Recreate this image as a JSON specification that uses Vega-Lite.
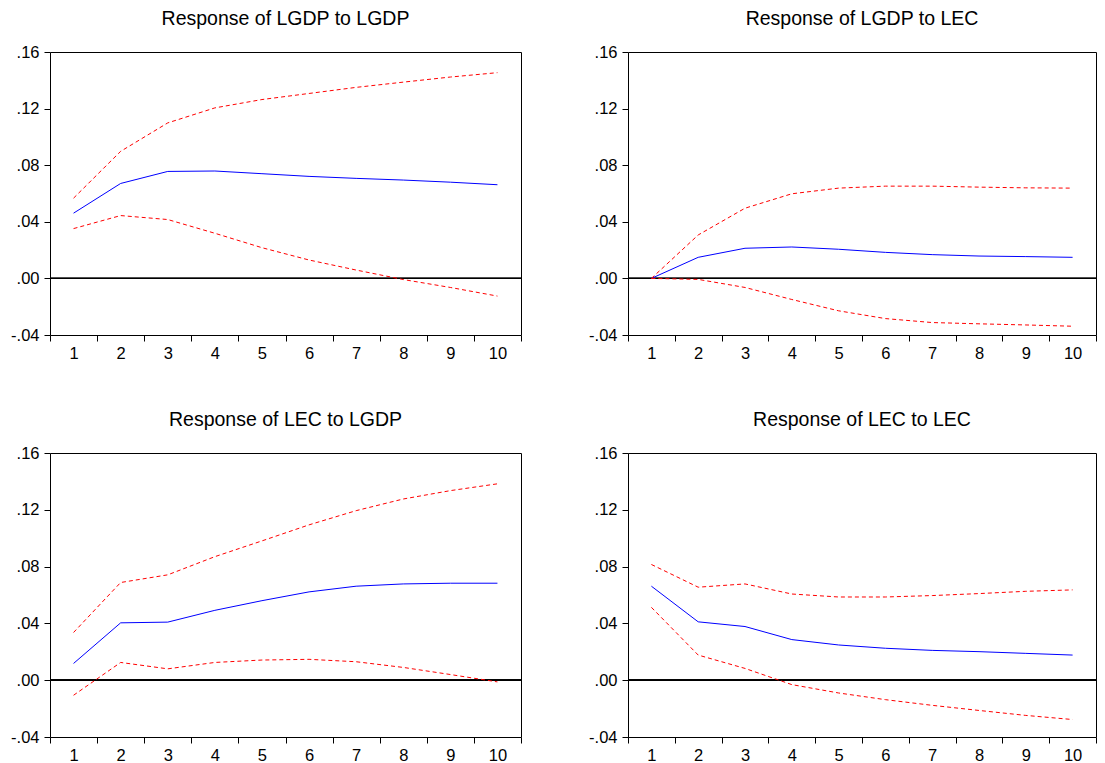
{
  "$schema": "https://vega.github.io/schema/vega-lite/v6.json",
  "background": "white",
  "padding": {"left": 10, "top": 8, "right": 5, "bottom": 0},
  "data": {"values": [
    {"panel": "LGDP_LGDP", "t": 1, "resp": 0.0461, "lo": 0.0352, "hi": 0.0567},
    {"panel": "LGDP_LGDP", "t": 2, "resp": 0.0671, "lo": 0.0444, "hi": 0.0898},
    {"panel": "LGDP_LGDP", "t": 3, "resp": 0.0756, "lo": 0.0416, "hi": 0.1099},
    {"panel": "LGDP_LGDP", "t": 4, "resp": 0.0759, "lo": 0.0319, "hi": 0.1205},
    {"panel": "LGDP_LGDP", "t": 5, "resp": 0.0740, "lo": 0.0217, "hi": 0.1264},
    {"panel": "LGDP_LGDP", "t": 6, "resp": 0.0721, "lo": 0.0130, "hi": 0.1307},
    {"panel": "LGDP_LGDP", "t": 7, "resp": 0.0707, "lo": 0.0059, "hi": 0.1350},
    {"panel": "LGDP_LGDP", "t": 8, "resp": 0.0695, "lo": -0.0008, "hi": 0.1387},
    {"panel": "LGDP_LGDP", "t": 9, "resp": 0.0680, "lo": -0.0064, "hi": 0.1423},
    {"panel": "LGDP_LGDP", "t": 10, "resp": 0.0662, "lo": -0.0125, "hi": 0.1454},
    {"panel": "LGDP_LEC", "t": 1, "resp": 0.0, "lo": 0.0, "hi": 0.0},
    {"panel": "LGDP_LEC", "t": 2, "resp": 0.0149, "lo": -0.0007, "hi": 0.0307},
    {"panel": "LGDP_LEC", "t": 3, "resp": 0.0213, "lo": -0.0064, "hi": 0.0496},
    {"panel": "LGDP_LEC", "t": 4, "resp": 0.0222, "lo": -0.0149, "hi": 0.0598},
    {"panel": "LGDP_LEC", "t": 5, "resp": 0.0206, "lo": -0.0229, "hi": 0.0638},
    {"panel": "LGDP_LEC", "t": 6, "resp": 0.0184, "lo": -0.0284, "hi": 0.0652},
    {"panel": "LGDP_LEC", "t": 7, "resp": 0.0168, "lo": -0.0312, "hi": 0.0652},
    {"panel": "LGDP_LEC", "t": 8, "resp": 0.0158, "lo": -0.0321, "hi": 0.0645},
    {"panel": "LGDP_LEC", "t": 9, "resp": 0.0154, "lo": -0.0329, "hi": 0.0640},
    {"panel": "LGDP_LEC", "t": 10, "resp": 0.0149, "lo": -0.0338, "hi": 0.0638},
    {"panel": "LEC_LGDP", "t": 1, "resp": 0.0118, "lo": -0.0106, "hi": 0.0336},
    {"panel": "LEC_LGDP", "t": 2, "resp": 0.0404, "lo": 0.0125, "hi": 0.0688},
    {"panel": "LEC_LGDP", "t": 3, "resp": 0.0409, "lo": 0.0080, "hi": 0.0742},
    {"panel": "LEC_LGDP", "t": 4, "resp": 0.0492, "lo": 0.0125, "hi": 0.0870},
    {"panel": "LEC_LGDP", "t": 5, "resp": 0.0560, "lo": 0.0142, "hi": 0.0981},
    {"panel": "LEC_LGDP", "t": 6, "resp": 0.0622, "lo": 0.0147, "hi": 0.1094},
    {"panel": "LEC_LGDP", "t": 7, "resp": 0.0662, "lo": 0.0130, "hi": 0.1194},
    {"panel": "LEC_LGDP", "t": 8, "resp": 0.0678, "lo": 0.0090, "hi": 0.1276},
    {"panel": "LEC_LGDP", "t": 9, "resp": 0.0683, "lo": 0.0040, "hi": 0.1335},
    {"panel": "LEC_LGDP", "t": 10, "resp": 0.0683, "lo": -0.0012, "hi": 0.1383},
    {"panel": "LEC_LEC", "t": 1, "resp": 0.0662, "lo": 0.0513, "hi": 0.0815},
    {"panel": "LEC_LEC", "t": 2, "resp": 0.0411, "lo": 0.0177, "hi": 0.0655},
    {"panel": "LEC_LEC", "t": 3, "resp": 0.0378, "lo": 0.0083, "hi": 0.0678},
    {"panel": "LEC_LEC", "t": 4, "resp": 0.0286, "lo": -0.0031, "hi": 0.0607},
    {"panel": "LEC_LEC", "t": 5, "resp": 0.0248, "lo": -0.0090, "hi": 0.0586},
    {"panel": "LEC_LEC", "t": 6, "resp": 0.0225, "lo": -0.0137, "hi": 0.0586},
    {"panel": "LEC_LEC", "t": 7, "resp": 0.0210, "lo": -0.0177, "hi": 0.0596},
    {"panel": "LEC_LEC", "t": 8, "resp": 0.0201, "lo": -0.0213, "hi": 0.0610},
    {"panel": "LEC_LEC", "t": 9, "resp": 0.0189, "lo": -0.0248, "hi": 0.0626},
    {"panel": "LEC_LEC", "t": 10, "resp": 0.0177, "lo": -0.0277, "hi": 0.0636}
  ]},
  "columns": 2,
  "spacing": {"row": 47, "column": 66},
  "concat": [
    {
      "title": "Response of LGDP to LGDP",
      "width": 471, "height": 283,
      "transform": [{"filter": "datum.panel === 'LGDP_LGDP'"}],
      "resolve": {"axis": {"x": "independent"}},
      "layer": [
        {"mark": {"type": "rule", "color": "black", "strokeWidth": 1}, "encoding": {"y": {"datum": 0, "type": "quantitative", "scale": {"domain": [-0.04, 0.16], "nice": false, "zero": false}, "axis": {"values": [-0.04, 0, 0.04, 0.08, 0.12, 0.16], "labelExpr": "replace(replace(format(datum.value, '.2f'), '0.', '.'), '−', '-')", "title": null, "grid": false, "domain": false, "tickSize": 6, "labelPadding": 5}}}},
        {"mark": {"type": "line", "color": "#0000FF", "strokeWidth": 1}, "encoding": {"x": {"field": "t", "type": "quantitative", "scale": {"domain": [0.5, 10.5], "nice": false, "zero": false}, "axis": {"orient": "bottom", "values": [1,2,3,4,5,6,7,8,9,10], "ticks": false, "tickSize": 0, "labelPadding": 10, "domain": false, "grid": false, "title": null}}, "y": {"field": "resp", "type": "quantitative"}}},
        {"mark": {"type": "line", "color": "#FF0000", "strokeWidth": 1, "strokeDash": [4, 3]}, "encoding": {"x": {"field": "t", "type": "quantitative", "axis": {"orient": "bottom", "values": [0.5,1.5,2.5,3.5,4.5,5.5,6.5,7.5,8.5,9.5,10.5], "labels": false, "tickSize": 6, "domain": false, "grid": false, "title": null}}, "y": {"field": "hi", "type": "quantitative"}}},
        {"mark": {"type": "line", "color": "#FF0000", "strokeWidth": 1, "strokeDash": [4, 3]}, "encoding": {"x": {"field": "t", "type": "quantitative", "axis": null}, "y": {"field": "lo", "type": "quantitative"}}}
      ]
    },
    {
      "title": "Response of LGDP to LEC",
      "width": 468, "height": 283,
      "transform": [{"filter": "datum.panel === 'LGDP_LEC'"}],
      "resolve": {"axis": {"x": "independent"}},
      "layer": [
        {"mark": {"type": "rule", "color": "black", "strokeWidth": 1}, "encoding": {"y": {"datum": 0, "type": "quantitative", "scale": {"domain": [-0.04, 0.16], "nice": false, "zero": false}, "axis": {"values": [-0.04, 0, 0.04, 0.08, 0.12, 0.16], "labelExpr": "replace(replace(format(datum.value, '.2f'), '0.', '.'), '−', '-')", "title": null, "grid": false, "domain": false, "tickSize": 6, "labelPadding": 5}}}},
        {"mark": {"type": "line", "color": "#0000FF", "strokeWidth": 1}, "encoding": {"x": {"field": "t", "type": "quantitative", "scale": {"domain": [0.5, 10.5], "nice": false, "zero": false}, "axis": {"orient": "bottom", "values": [1,2,3,4,5,6,7,8,9,10], "ticks": false, "tickSize": 0, "labelPadding": 10, "domain": false, "grid": false, "title": null}}, "y": {"field": "resp", "type": "quantitative"}}},
        {"mark": {"type": "line", "color": "#FF0000", "strokeWidth": 1, "strokeDash": [4, 3]}, "encoding": {"x": {"field": "t", "type": "quantitative", "axis": {"orient": "bottom", "values": [0.5,1.5,2.5,3.5,4.5,5.5,6.5,7.5,8.5,9.5,10.5], "labels": false, "tickSize": 6, "domain": false, "grid": false, "title": null}}, "y": {"field": "hi", "type": "quantitative"}}},
        {"mark": {"type": "line", "color": "#FF0000", "strokeWidth": 1, "strokeDash": [4, 3]}, "encoding": {"x": {"field": "t", "type": "quantitative", "axis": null}, "y": {"field": "lo", "type": "quantitative"}}}
      ]
    },
    {
      "title": "Response of LEC to LGDP",
      "width": 471, "height": 284,
      "transform": [{"filter": "datum.panel === 'LEC_LGDP'"}],
      "resolve": {"axis": {"x": "independent"}},
      "layer": [
        {"mark": {"type": "rule", "color": "black", "strokeWidth": 1}, "encoding": {"y": {"datum": 0, "type": "quantitative", "scale": {"domain": [-0.04, 0.16], "nice": false, "zero": false}, "axis": {"values": [-0.04, 0, 0.04, 0.08, 0.12, 0.16], "labelExpr": "replace(replace(format(datum.value, '.2f'), '0.', '.'), '−', '-')", "title": null, "grid": false, "domain": false, "tickSize": 6, "labelPadding": 5}}}},
        {"mark": {"type": "line", "color": "#0000FF", "strokeWidth": 1}, "encoding": {"x": {"field": "t", "type": "quantitative", "scale": {"domain": [0.5, 10.5], "nice": false, "zero": false}, "axis": {"orient": "bottom", "values": [1,2,3,4,5,6,7,8,9,10], "ticks": false, "tickSize": 0, "labelPadding": 10, "domain": false, "grid": false, "title": null}}, "y": {"field": "resp", "type": "quantitative"}}},
        {"mark": {"type": "line", "color": "#FF0000", "strokeWidth": 1, "strokeDash": [4, 3]}, "encoding": {"x": {"field": "t", "type": "quantitative", "axis": {"orient": "bottom", "values": [0.5,1.5,2.5,3.5,4.5,5.5,6.5,7.5,8.5,9.5,10.5], "labels": false, "tickSize": 6, "domain": false, "grid": false, "title": null}}, "y": {"field": "hi", "type": "quantitative"}}},
        {"mark": {"type": "line", "color": "#FF0000", "strokeWidth": 1, "strokeDash": [4, 3]}, "encoding": {"x": {"field": "t", "type": "quantitative", "axis": null}, "y": {"field": "lo", "type": "quantitative"}}}
      ]
    },
    {
      "title": "Response of LEC to LEC",
      "width": 468, "height": 284,
      "transform": [{"filter": "datum.panel === 'LEC_LEC'"}],
      "resolve": {"axis": {"x": "independent"}},
      "layer": [
        {"mark": {"type": "rule", "color": "black", "strokeWidth": 1}, "encoding": {"y": {"datum": 0, "type": "quantitative", "scale": {"domain": [-0.04, 0.16], "nice": false, "zero": false}, "axis": {"values": [-0.04, 0, 0.04, 0.08, 0.12, 0.16], "labelExpr": "replace(replace(format(datum.value, '.2f'), '0.', '.'), '−', '-')", "title": null, "grid": false, "domain": false, "tickSize": 6, "labelPadding": 5}}}},
        {"mark": {"type": "line", "color": "#0000FF", "strokeWidth": 1}, "encoding": {"x": {"field": "t", "type": "quantitative", "scale": {"domain": [0.5, 10.5], "nice": false, "zero": false}, "axis": {"orient": "bottom", "values": [1,2,3,4,5,6,7,8,9,10], "ticks": false, "tickSize": 0, "labelPadding": 10, "domain": false, "grid": false, "title": null}}, "y": {"field": "resp", "type": "quantitative"}}},
        {"mark": {"type": "line", "color": "#FF0000", "strokeWidth": 1, "strokeDash": [4, 3]}, "encoding": {"x": {"field": "t", "type": "quantitative", "axis": {"orient": "bottom", "values": [0.5,1.5,2.5,3.5,4.5,5.5,6.5,7.5,8.5,9.5,10.5], "labels": false, "tickSize": 6, "domain": false, "grid": false, "title": null}}, "y": {"field": "hi", "type": "quantitative"}}},
        {"mark": {"type": "line", "color": "#FF0000", "strokeWidth": 1, "strokeDash": [4, 3]}, "encoding": {"x": {"field": "t", "type": "quantitative", "axis": null}, "y": {"field": "lo", "type": "quantitative"}}}
      ]
    }
  ],
  "config": {
    "view": {"stroke": "black", "strokeWidth": 1},
    "axis": {"labelFont": "Liberation Sans", "labelFontSize": 16.5, "labelColor": "black", "tickColor": "black", "labelOverlap": false, "labelBound": false, "labelFlush": false},
    "title": {"font": "Liberation Sans", "fontSize": 19.5, "fontWeight": "normal", "color": "black", "anchor": "middle", "offset": 15}
  }
}
